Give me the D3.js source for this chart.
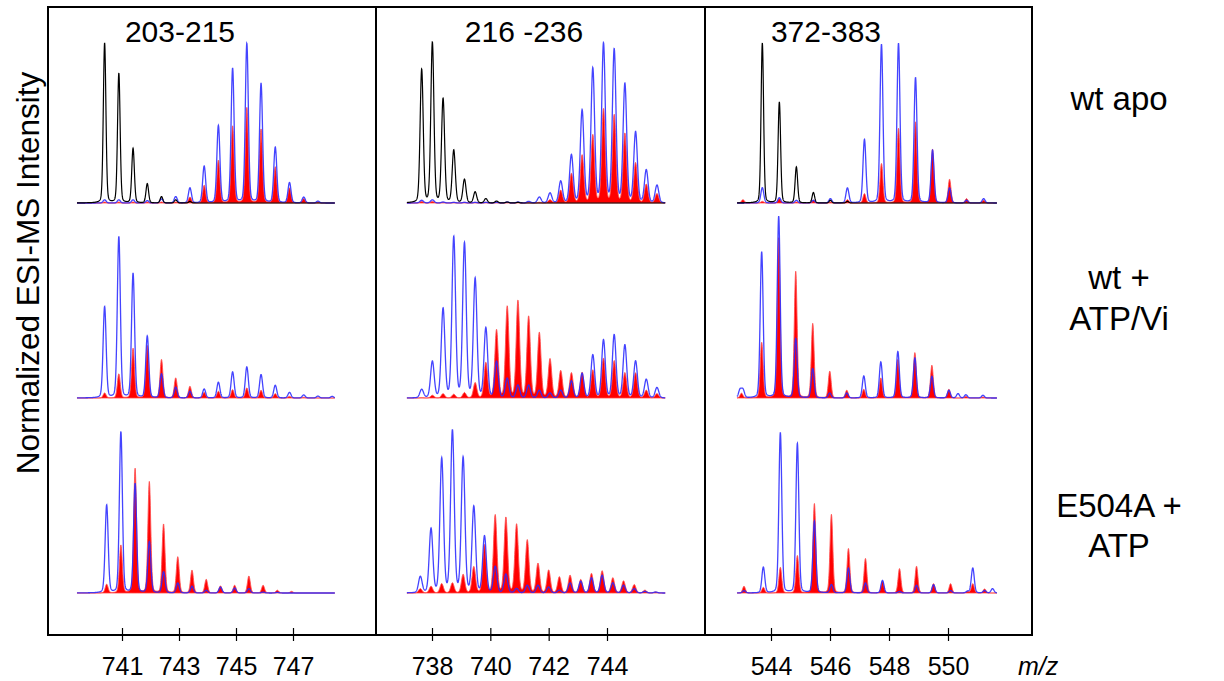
<!DOCTYPE html>
<html><head><meta charset="utf-8">
<script src="https://cdn.jsdelivr.net/npm/d3@7"></script>
<style>
body{margin:0;background:#fff}
svg{display:block}
text{font-family:"Liberation Sans",Arial,Helvetica,sans-serif;fill:#000}
</style>
</head><body>
<svg id="chart" width="1224" height="681"></svg>
<script>
// ---------------- data ----------------
const peptides = ["203-215", "216 -236", "372-383"];
const states = [["wt apo"], ["wt +", "ATP/Vi"], ["E504A +", "ATP"]];
const ticks203 = [741, 743, 745, 747];
const ticks216 = [738, 740, 742, 744];
const ticks372 = [544, 546, 548, 550];
const xUnit = "m/z";
const yTitle = "Normalized ESI-MS Intensity";

// isotope grid: m/z of first peak for [state][peptide], and isotope spacing per peptide
const firstPeak = [[740.39, 737.646, 543.706], [740.39, 737.646, 543.684], [740.462, 737.60, 543.74]];
const peakSpacing = [0.499, 0.3667, 0.577];

// relative peak intensities on that grid (black, blue, red traces)
const apo203Black = [1.0, 0.81, 0.34, 0.12, 0.04, 0.02, 0.01];
const apo203Blue  = [0.02, 0.02, 0.02, 0.015, 0.025, 0.04, 0.094, 0.229, 0.482, 0.84, 0.994, 0.744, 0.347, 0.127, 0.037, 0.012];
const apo203Red   = [0.006, 0.006, 0.006, 0.006, 0.006, 0.006, 0.037, 0.11, 0.266, 0.48, 0.595, 0.46, 0.225, 0.094, 0.027, 0.006];

const apo216Black = [0.832, 1.0, 0.649, 0.327, 0.146, 0.069, 0.027, 0.012, 0.006, 0.004];
const apo216Blue  = [0.017, 0.02, 0.006, 0.004, 0.004, 0.004, 0.004, 0.004, 0.006, 0.006, 0.01, 0.037, 0.062, 0.135, 0.297, 0.574, 0.834, 0.988, 0.952, 0.738, 0.439, 0.204, 0.11];
const apo216Red   = [0.01, 0.01, 0.004, 0.004, 0.004, 0.004, 0.004, 0.004, 0.004, 0.004, 0.004, 0.004, 0.02, 0.079, 0.183, 0.297, 0.422, 0.584, 0.547, 0.432, 0.249, 0.116, 0.058];

const apo372Black = [1.0, 0.631, 0.225, 0.065, 0.017, 0.01];
const apo372Blue  = [0.096, 0.033, 0.017, 0.017, 0.027, 0.094, 0.396, 0.99, 0.996, 0.783, 0.329, 0.094, 0.017, 0.027];
const apo372Red   = [0.01, 0.027, 0.006, 0.017, 0.006, 0.021, 0.058, 0.246, 0.465, 0.506, 0.335, 0.148, 0.027, 0.017];

const vi203Blue = [0.569, 1.006, 0.777, 0.385, 0.15, 0.067, 0.042, 0.056, 0.098, 0.162, 0.194, 0.146, 0.079, 0.035, 0.019, 0.012, 0.01];
const vi203Red  = [0.031, 0.15, 0.31, 0.327, 0.24, 0.125, 0.073, 0.035, 0.042, 0.052, 0.063, 0.048, 0.027, 0.01, 0.004];

const vi216Blue = [0.052, 0.225, 0.554, 1.0, 0.96, 0.74, 0.433, 0.225, 0.121, 0.08, 0.08, 0.048, 0.031, 0.048, 0.106, 0.152, 0.267, 0.36, 0.392, 0.329, 0.229, 0.115, 0.065];
const vi216Red  = [0.002, 0.017, 0.027, 0.023, 0.033, 0.094, 0.219, 0.423, 0.569, 0.604, 0.506, 0.406, 0.242, 0.169, 0.156, 0.158, 0.173, 0.246, 0.231, 0.156, 0.156, 0.048, 0.027];

const vi372Blue = [0.9125, 1.135, 0.37, 0.183, 0.031, 0.031, 0.1375, 0.225, 0.29, 0.25, 0.135, 0.048, 0.02, 0.017];
const vi372Red  = [0.346, 1.0, 0.79, 0.465, 0.167, 0.048, 0.054, 0.125, 0.24, 0.283, 0.204, 0.054, 0.01, 0.006];

const e504203Blue = [0.548, 1.006, 0.683, 0.319, 0.131, 0.062, 0.042, 0.017, 0.037, 0.031, 0.027, 0.006, 0.004];
const e504203Red  = [0.054, 0.298, 0.777, 0.694, 0.429, 0.225, 0.142, 0.085, 0.044, 0.048, 0.106, 0.048, 0.017, 0.01];

const e504216Blue = [0.1, 0.398, 0.835, 1.01, 0.84, 0.535, 0.352, 0.163, 0.117, 0.027, 0.048, 0.048, 0.037, 0.017, 0.0625, 0.073, 0.094, 0.11, 0.0625, 0.048, 0.027, 0.01, 0.006];
const e504216Red  = [0.027, 0.042, 0.058, 0.0625, 0.115, 0.1625, 0.298, 0.485, 0.469, 0.427, 0.329, 0.183, 0.142, 0.1, 0.11, 0.083, 0.121, 0.1375, 0.094, 0.075, 0.052, 0.017, 0.006];

const e504372Blue = [0.16, 1.0, 0.933, 0.448, 0.052, 0.156, 0.0625, 0.079, 0.01, 0.048, 0.052, 0.015, 0.01, 0.015];
const e504372Red  = [0.035, 0.16, 0.233, 0.558, 0.49, 0.277, 0.215, 0.073, 0.152, 0.167, 0.058, 0.058, 0.01, 0.025];

// peaks off the isotope grid: [state, peptide, trace, m/z, intensity]
const offGridPeaks = [
  [0, 2, "red", 543.05, 0.021],
  [1, 2, "blue", 542.95, 0.05], [1, 2, "blue", 543.05, 0.05], [1, 2, "red", 543.0, 0.03], [1, 2, "blue", 550.34, 0.027],
  [2, 2, "blue", 543.085, 0.015], [2, 2, "red", 543.085, 0.042], [2, 2, "blue", 550.84, 0.156],
  [2, 2, "red", 550.84, 0.058], [2, 2, "blue", 551.51, 0.027]
];

// ---------------- layout ----------------
const frame = {left: 48, top: 7, right: 1032, bottom: 635};
const colEdges = [48, 376, 705, 1032];
const rowBase = [203, 398, 593];
const unitHeight = 160;
const tickSets = [ticks203, ticks216, ticks372];
// pixel anchors for first/last tick of each column
const tickPx = [[122, 293], [432, 607], [771, 948]];
// drawn m/z extent of each column
const traceExtent = [[739.42, 748.47], [737.14, 746.0], [542.85, 551.66]];
const peakWidth = [0.05, 0.058, 0.047];

const table = [
  [{black: apo203Black, blue: apo203Blue, red: apo203Red}, {black: apo216Black, blue: apo216Blue, red: apo216Red}, {black: apo372Black, blue: apo372Blue, red: apo372Red}],
  [{blue: vi203Blue, red: vi203Red}, {blue: vi216Blue, red: vi216Red}, {blue: vi372Blue, red: vi372Red}],
  [{blue: e504203Blue, red: e504203Red}, {blue: e504216Blue, red: e504216Red}, {blue: e504372Blue, red: e504372Red}]
];

const svg = d3.select("#chart");
const xScales = tickSets.map((t, c) => d3.scaleLinear().domain([t[0], t[t.length - 1]]).range(tickPx[c]));

function peakShape(d, s) {
  const g = Math.exp(-d * d / (2 * s * s));
  const l = 1 / (1 + (d / (1.3 * s)) ** 2);
  return 0.85 * g + 0.15 * l;
}

function spectrum(r, c, key, widthFactor) {
  const heights = table[r][c][key];
  const start = firstPeak[r][c], step = peakSpacing[c], s = peakWidth[c] * widthFactor;
  const peaks = heights.map((h, i) => [start + i * step, h]);
  offGridPeaks.filter(p => p[0] === r && p[1] === c && p[2] === key).forEach(p => peaks.push([p[3], p[4]]));
  const [a, b] = traceExtent[c];
  return d3.range(a, b + 1e-9, 0.006).map(mz => {
    let v = 0;
    for (const [m, h] of peaks) {
      const d = mz - m;
      if (Math.abs(d) < 1.2) v += h * peakShape(d, s);
    }
    return [mz, v];
  });
}

for (let r = 0; r < 3; r++) {
  for (let c = 0; c < 3; c++) {
    const x = xScales[c];
    const y = d3.scaleLinear().domain([0, 1]).range([rowBase[r], rowBase[r] - unitHeight]);
    const g = svg.append("g");
    const set = table[r][c];
    if (set.red) {
      const data = spectrum(r, c, "red", 1.0);
      g.append("path").datum(data)
        .attr("d", d3.area().x(d => x(d[0])).y0(y(0)).y1(d => y(d[1])))
        .attr("fill", "#ff0000").attr("stroke", "#ff5050").attr("stroke-width", 0.9);
    }
    if (set.blue) {
      const data = spectrum(r, c, "blue", 1.05);
      g.append("path").datum(data)
        .attr("d", d3.line().x(d => x(d[0])).y(d => y(d[1])))
        .attr("fill", "none").attr("stroke", "#2a2aff").attr("stroke-width", 1.3).attr("stroke-opacity", 0.88);
    }
    if (set.black) {
      const data = spectrum(r, c, "black", 0.9);
      g.append("path").datum(data)
        .attr("d", d3.line().x(d => x(d[0])).y(d => y(d[1])))
        .attr("fill", "none").attr("stroke", "#000").attr("stroke-width", 1.2);
    }
  }
}

// frame and column dividers
svg.append("rect").attr("x", frame.left).attr("y", frame.top)
  .attr("width", frame.right - frame.left).attr("height", frame.bottom - frame.top)
  .attr("fill", "none").attr("stroke", "#000").attr("stroke-width", 2);
[colEdges[1], colEdges[2]].forEach(xp => {
  svg.append("line").attr("x1", xp).attr("x2", xp).attr("y1", frame.top).attr("y2", frame.bottom)
    .attr("stroke", "#000").attr("stroke-width", 2);
});

// x axes (ticks crossing the bottom frame line)
tickSets.forEach((t, c) => {
  const ax = d3.axisBottom(xScales[c]).tickValues(t).tickSize(13).tickFormat(d3.format("d"));
  const g = svg.append("g").attr("transform", `translate(0,${frame.bottom - 7})`).call(ax);
  g.select(".domain").remove();
  g.selectAll(".tick line").attr("stroke", "#000").attr("stroke-width", 1.2);
  g.selectAll(".tick text").attr("y", 0).attr("dy", null)
    .attr("transform", "translate(0,47)")
    .style("font-size", "25px").style("font-family", "'Liberation Sans',Arial,sans-serif").attr("fill", "#000");
});
svg.append("text").attr("x", 1018).attr("y", 675).style("font-size", "25px").style("font-style", "italic").text(xUnit);

// panel titles
const titleX = [180, 524, 826];
peptides.forEach((p, i) => {
  svg.append("text").attr("x", titleX[i]).attr("y", 42).attr("text-anchor", "middle")
    .style("font-size", "30px").text(p);
});

// state labels on the right
const stateBaselines = [[110], [289, 330], [517, 557]];
states.forEach((lines, r) => {
  lines.forEach((ln, k) => {
    svg.append("text").attr("x", 1119).attr("y", stateBaselines[r][k]).attr("text-anchor", "middle")
      .style("font-size", "33px").text(ln);
  });
});

// y title
svg.append("text").attr("transform", "translate(39,273) rotate(-90)").attr("text-anchor", "middle")
  .style("font-size", "31.5px").text(yTitle);
</script>
</body></html>
